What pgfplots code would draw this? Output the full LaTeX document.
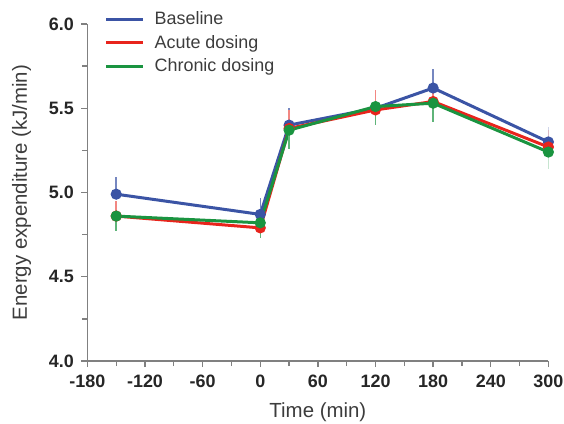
\documentclass[border=0pt]{standalone}
\usepackage{fontspec}
\setmainfont{Liberation Sans}
\usepackage{pgfplots}
\pgfplotsset{compat=1.18}

\definecolor{axgray}{RGB}{128,128,128}
\definecolor{txtgray}{RGB}{60,60,60}
\definecolor{cblue}{RGB}{59,84,165}
\definecolor{cred}{RGB}{232,36,28}
\definecolor{cgreen}{RGB}{26,148,64}

\begin{document}
\begin{tikzpicture}
\useasboundingbox (-87.4bp,-63bp) rectangle (476.6bp,361bp);
\begin{axis}[
    scale only axis,
    width=461bp, height=337bp,
    xmin=-180, xmax=300,
    ymin=4, ymax=6,
    axis x line*=bottom,
    axis y line*=left,
    axis line style={draw=axgray, line width=1.3bp},
    xtick={-180,-120,-60,0,60,120,180,240,300},
    xticklabels={-180,-120,-60,0,60,120,180,240,300},
    minor x tick num=1,
    ytick={4,4.5,5,5.5,6},
    yticklabels={4.0,4.5,5.0,5.5,6.0},
    minor y tick num=1,
    tick align=outside,
    major tick length=6bp,
    minor tick length=5bp,
    tick style={draw=axgray, line width=1.3bp},
    ticklabel style={font=\fontsize{18}{18}\selectfont\bfseries, text=black!85},
    xticklabel shift=4bp,
    yticklabel shift=4bp,
    xlabel={Time (min)},
    ylabel={Energy expenditure (kJ/min)},
    xlabel shift=9bp,
    ylabel shift=11bp,
    label style={font=\fontsize{20.5}{20.5}\selectfont, text=txtgray},
    legend cell align=left,
    legend image code/.code={\draw[#1, mark=none] (0bp,0bp) -- (37bp,0bp);},
    legend style={at={(rel axis cs:0.037,1.05)}, anchor=north west,
        draw=none, fill=none, inner sep=0pt,
        font=\fontsize{18}{18}\selectfont, text=txtgray,
        nodes={inner sep=0pt, minimum height=23.5bp},
        /tikz/every odd column/.append style={column sep=10bp}},
    every axis plot/.append style={line width=3bp, mark=*, mark size=4bp,
        mark options={solid}},
]

% Baseline
\addplot[color=cblue,
    error bars/.cd, y dir=plus, y explicit, error mark=none,
    error bar style={line width=1.5bp, draw=cblue!70!white}]
    coordinates {
    (-150,4.99) +- (0,0.10)
    (0,4.87)    +- (0,0.10)
    (30,5.40)   +- (0,0.10)
    (120,5.50)  +- (0,0.09)
    (180,5.62)  +- (0,0.11)
    (300,5.30)  +- (0,0.09)
    };
\addlegendentry{Baseline}

% Acute dosing
\addplot[color=cred,
    error bars/.cd, y dir=plus, y explicit, error mark=none,
    error bar style={line width=1.5bp, draw=cred!55!white}]
    coordinates {
    (-150,4.86) +- (0,0.09)
    (0,4.79)    +- (0,0.09)
    (30,5.38)   +- (0,0.11)
    (120,5.49)  +- (0,0.12)
    (180,5.54)  +- (0,0.09)
    (300,5.27)  +- (0,0.10)
    };
\addlegendentry{Acute dosing}

% Chronic dosing
\addplot[color=cgreen,
    error bars/.cd, y dir=minus, y explicit, error mark=none,
    error bar style={line width=1.5bp, draw=cgreen!70!white}]
    coordinates {
    (-150,4.86) +- (0,0.09)
    (0,4.82)    +- (0,0.09)
    (30,5.37)   +- (0,0.11)
    (120,5.51)  +- (0,0.11)
    (180,5.53)  +- (0,0.11)
    (300,5.24)  +- (0,0.10)
    };
\addlegendentry{Chronic dosing}

\end{axis}
\end{tikzpicture}
\end{document}
